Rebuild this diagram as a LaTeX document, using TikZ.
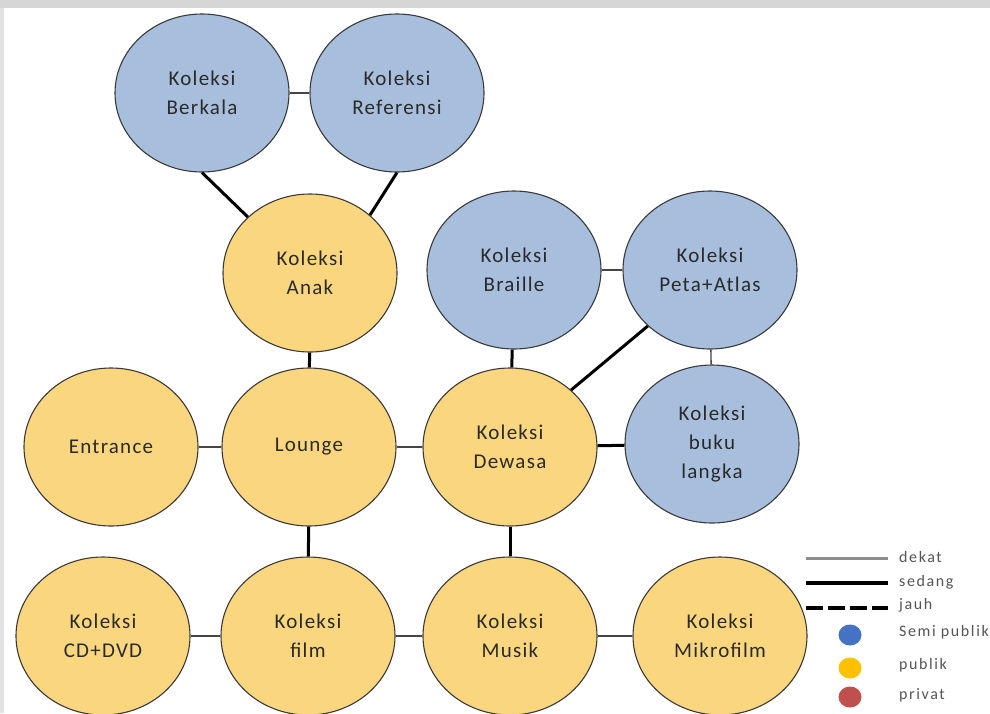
\documentclass[tikz,border=0pt]{standalone}
\usepackage{fontspec}
\setmainfont{Carlito}
\newfontfamily\roomfont[LetterSpace=6]{Carlito}
\newfontfamily\keyfont[LetterSpace=10]{Carlito}
\usetikzlibrary{shapes.geometric}

\definecolor{semiblue}{HTML}{A7BFDD}
\definecolor{pubyellow}{HTML}{FAD67F}
\definecolor{rimgray}{HTML}{3A3A3A}
\definecolor{inkgray}{HTML}{2A2A2A}
\definecolor{neargray}{HTML}{454545}
\definecolor{bandgray}{HTML}{D6D6D6}
\definecolor{keygray}{HTML}{555555}
\definecolor{keyline}{HTML}{8C8C8C}
\definecolor{dotblue}{HTML}{4472C4}
\definecolor{dotyellow}{HTML}{FFC000}
\definecolor{dotred}{HTML}{C0504D}

\begin{document}
\begin{tikzpicture}[x=1pt,y=-1pt,
  room/.style={ellipse, draw=rimgray, line width=1.1pt,
    minimum width=174pt, minimum height=158pt, inner sep=0pt,
    align=center, text=inkgray, font=\roomfont\fontsize{21}{29}\selectfont},
  semi/.style={room, fill=semiblue},
  pub/.style={room, fill=pubyellow},
  dekat/.style={line width=1.4pt, draw=neargray},
  sedang/.style={line width=3pt, draw=black},
  keytext/.style={anchor=west, inner sep=0pt, text=keygray,
    font=\keyfont\fontsize{16}{19}\selectfont},
  keydot/.style={ellipse, minimum width=23pt, minimum height=21pt, inner sep=0pt}
]
\useasboundingbox (0,0) rectangle (990,713);
\fill[white] (0,0) rectangle (990,713);
% page frame strips
\fill[bandgray] (0,0) rectangle (990,8);
\fill[bandgray!70] (0,8) rectangle (4,713);

% rooms
\node[semi] (berkala)   at (202,93)  {Koleksi\\Berkala};
\node[semi] (referensi) at (397,93)  {Koleksi\\Referensi};
\node[pub]  (anak)      at (310,273) {Koleksi\\Anak};
\node[semi] (braille)   at (514,270) {Koleksi\\Braille};
\node[semi] (peta)      at (710,270) {Koleksi\\Peta+Atlas};
\node[pub]  (entrance)  at (111,447) {Entrance};
\node[pub]  (lounge)    at (309,447) {Lounge};
\node[pub]  (dewasa)    at (510,447) {Koleksi\\Dewasa};
\node[semi] (langka)    at (712,444) {Koleksi\\buku\\langka};
\node[pub]  (cdvd)      at (103,636) {Koleksi\\CD+DVD};
\node[pub]  (film)      at (308,636) {Koleksi\\film};
\node[pub]  (musik)     at (510,636) {Koleksi\\Musik};
\node[pub]  (mikro)     at (720,636) {Koleksi\\Mikrofilm};

% near links
\draw[dekat] (berkala) -- (referensi);
\draw[dekat] (braille) -- (peta);
\draw[dekat] (peta) -- (langka);
\draw[dekat] (entrance) -- (lounge);
\draw[dekat] (lounge) -- (dewasa);
\draw[dekat] (cdvd) -- (film);
\draw[dekat] (film) -- (musik);
\draw[dekat] (musik) -- (mikro);

% medium links
\draw[sedang] (berkala.south) -- (anak.138);
\draw[sedang] (referensi.south) -- (anak.44);
\draw[sedang] (anak) -- (lounge);
\draw[sedang] (braille) -- (dewasa);
\draw[sedang] (dewasa.43) -- (peta.222);
\draw[sedang] (dewasa) -- (langka);
\draw[sedang] (lounge) -- (film);
\draw[sedang] (dewasa) -- (musik);

% legend
\coordinate (k1a) at (806,558); \coordinate (k1b) at (888,558);
\coordinate (k2a) at (806,583); \coordinate (k2b) at (888,583);
\coordinate (k3a) at (806,608); \coordinate (k3b) at (888,608);
\draw[line width=3pt, draw=keyline] (k1a) -- (k1b);
\draw[line width=4pt, draw=black] (k2a) -- (k2b);
\draw[line width=4pt, draw=black, dash pattern=on 17pt off 5pt] (k3a) -- (k3b);
\node[keytext] (tdekat)  at (899,557) {dekat};
\node[keytext] (tsedang) at (899,582) {sedang};
\node[keytext] (tjauh)   at (899,605) {jauh};
\node[keydot, fill=dotblue]   (dsemi) at (850,635) {};
\node[keydot, fill=dotyellow] (dpub)  at (850,668) {};
\node[keydot, fill=dotred]    (dpriv) at (850,697) {};
\node[keytext] (tsemi) at (899,632) {Semi publik};
\node[keytext] (tpub)  at (899,665) {publik};
\node[keytext] (tpriv) at (899,695) {privat};
\end{tikzpicture}
\end{document}
